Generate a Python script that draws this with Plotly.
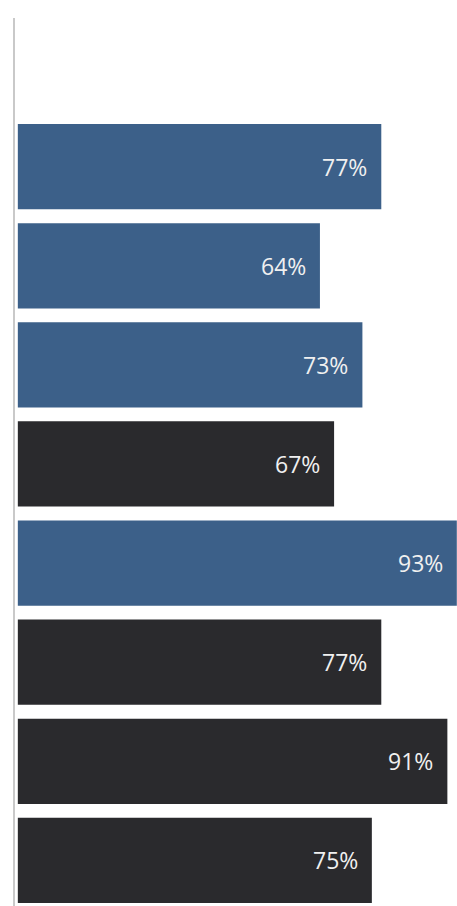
import plotly.graph_objects as go

# Share of respondents per item, top to bottom
values = [77, 64, 73, 67, 93, 77, 91, 75]
groups = ["a", "a", "a", "b", "a", "b", "b", "b"]
labels = [f"{v}%" for v in values]

palette = {"a": "#3c6089", "b": "#2a2a2d"}
colors = [palette[g] for g in groups]
positions = list(range(len(values)))

fig = go.Figure(
    go.Bar(
        x=values,
        y=positions,
        orientation="h",
        width=0.86,
        marker=dict(color=colors, line=dict(width=0)),
        hoverinfo="skip",
    )
)

for v, p, t in zip(values, positions, labels):
    fig.add_annotation(
        x=v, y=p, text=t, showarrow=False,
        xanchor="right", yanchor="middle", xshift=-12, yshift=0,
        font=dict(family="Open Sans, sans-serif", size=23, color="#f0f0f0"),
    )

fig.update_layout(
    width=457, height=906,
    margin=dict(l=15, r=0, t=18, b=0),
    paper_bgcolor="white", plot_bgcolor="white",
    showlegend=False,
    xaxis=dict(range=[-0.6, 93.04], visible=False, fixedrange=True),
    yaxis=dict(range=[7.46, -1.5], showticklabels=False, showgrid=False,
               zeroline=False, showline=True, linecolor="#c9c9c9", linewidth=2,
               ticks="", fixedrange=True),
)

fig.write_html("out.html")
